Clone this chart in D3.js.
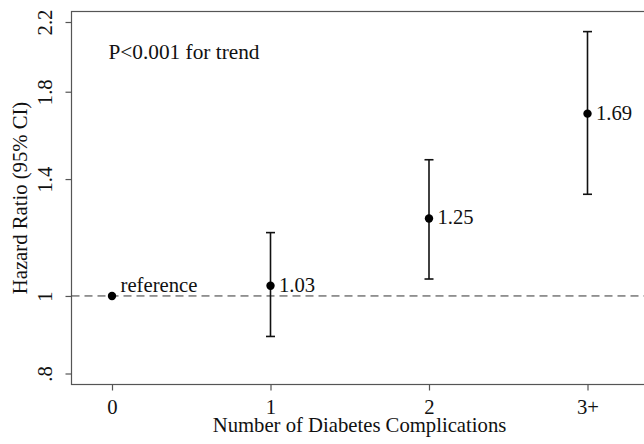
<!DOCTYPE html>
<html>
<head>
<meta charset="utf-8">
<script src="https://cdn.jsdelivr.net/npm/d3@7"></script>
<style>
  body { margin: 0; background: #fff; }
  svg { display: block; font-family: "Liberation Serif", "Times New Roman", serif; }
</style>
</head>
<body>
<svg id="chart" width="644" height="444"></svg>
<script>
// values
const categories = ["0", "1", "2", "3+"]
const hazardRatio = [1, 1.03, 1.25, 1.69]
const ciLower = [null, 0.89, 1.05, 1.34]
const ciUpper = [null, 1.20, 1.48, 2.14]
const pointLabels = ["reference", "1.03", "1.25", "1.69"]
const yTicks = [0.8, 1, 1.4, 1.8, 2.2]
const yTickLabels = [".8", "1", "1.4", "1.8", "2.2"]

const svg = d3.select('#chart')
const width = 644, height = 444
const frame = { left: 71.5, top: 11.5, bottom: 384.5, right: 648.5 }
const fontSize = 20.7
const ink = "#111"
const frameColor = "#555"

// x positions of the four groups, y is on a log scale
const x = d3.scalePoint()
  .domain(categories)
  .range([112, 587.5])

const y = d3.scaleLog()
  .domain([0.8, 2.2])
  .range([373.5, 22])

const data = categories.map((c, i) => ({
  cat: c, hr: hazardRatio[i], lo: ciLower[i], hi: ciUpper[i], label: pointLabels[i]
}))

// plot frame
svg.append("rect")
  .attr("x", frame.left)
  .attr("y", frame.top)
  .attr("width", frame.right - frame.left)
  .attr("height", frame.bottom - frame.top)
  .attr("fill", "none")
  .attr("stroke", frameColor)
  .attr("stroke-width", 1.2)

// reference line at HR = 1
svg.append("line")
  .attr("x1", frame.left)
  .attr("x2", width)
  .attr("y1", y(1))
  .attr("y2", y(1))
  .attr("stroke", "#333")
  .attr("stroke-width", 1)
  .attr("stroke-dasharray", "8,5")

// y axis
const yAxis = svg.append("g")
  .attr("transform", "translate(" + frame.left + ",0)")
  .call(d3.axisLeft(y).tickValues(yTicks).tickFormat((d, i) => yTickLabels[i]).tickSize(6))
yAxis.select(".domain").remove()
yAxis.selectAll(".tick line").attr("stroke", frameColor).attr("stroke-width", 1.2)
yAxis.selectAll(".tick text")
  .attr("x", 0).attr("dy", 0)
  .attr("transform", "translate(-20,0) rotate(-90)")
  .attr("text-anchor", "middle")
  .style("font-size", fontSize + "px")
  .style("font-family", "Liberation Serif, serif")
  .attr("fill", ink)

// x axis
const xAxis = svg.append("g")
  .attr("transform", "translate(0," + frame.bottom + ")")
  .call(d3.axisBottom(x).tickSize(6))
xAxis.select(".domain").remove()
xAxis.selectAll(".tick line").attr("stroke", frameColor).attr("stroke-width", 1.2)
xAxis.selectAll(".tick text")
  .attr("y", 29.5).attr("dy", 0)
  .style("font-size", fontSize + "px")
  .style("font-family", "Liberation Serif, serif")
  .attr("fill", ink)

// axis titles
svg.append("text")
  .attr("x", 359.5)
  .attr("y", 431.5)
  .attr("text-anchor", "middle")
  .style("font-size", fontSize + "px")
  .attr("fill", ink)
  .text("Number of Diabetes Complications")

svg.append("text")
  .attr("transform", "translate(26.5," + ((frame.top + frame.bottom) / 2) + ") rotate(-90)")
  .attr("text-anchor", "middle")
  .style("font-size", fontSize + "px")
  .attr("fill", ink)
  .text("Hazard Ratio (95% CI)")

svg.append("text")
  .attr("x", 108.5)
  .attr("y", 59)
  .style("font-size", "21.3px")
  .attr("fill", ink)
  .text("P<0.001 for trend")

// confidence intervals
const ci = data.filter(d => d.lo != null)
const bars = svg.append("g")
  .attr("stroke", ink)
  .attr("stroke-width", 1.6)
bars.selectAll(".ci")
  .data(ci)
  .join("line")
  .attr("x1", d => x(d.cat)).attr("x2", d => x(d.cat))
  .attr("y1", d => y(d.lo)).attr("y2", d => y(d.hi))
bars.selectAll(".capLo")
  .data(ci)
  .join("line")
  .attr("x1", d => x(d.cat) - 4.5).attr("x2", d => x(d.cat) + 4.5)
  .attr("y1", d => y(d.lo)).attr("y2", d => y(d.lo))
bars.selectAll(".capHi")
  .data(ci)
  .join("line")
  .attr("x1", d => x(d.cat) - 4.5).attr("x2", d => x(d.cat) + 4.5)
  .attr("y1", d => y(d.hi)).attr("y2", d => y(d.hi))

// point estimates
svg.append("g")
  .selectAll("circle")
  .data(data)
  .join("circle")
  .attr("cx", d => x(d.cat))
  .attr("cy", d => y(d.hr))
  .attr("r", 4.2)
  .attr("fill", "#000")

// labels next to the points, the reference one sits a bit above the dashed line
svg.append("g")
  .selectAll("text")
  .data(data)
  .join("text")
  .attr("x", d => x(d.cat) + 8.5)
  .attr("y", (d, i) => y(d.hr) + (i == 0 ? -3.5 : 6))
  .style("font-size", fontSize + "px")
  .attr("fill", ink)
  .text(d => d.label)
</script>
</body>
</html>
